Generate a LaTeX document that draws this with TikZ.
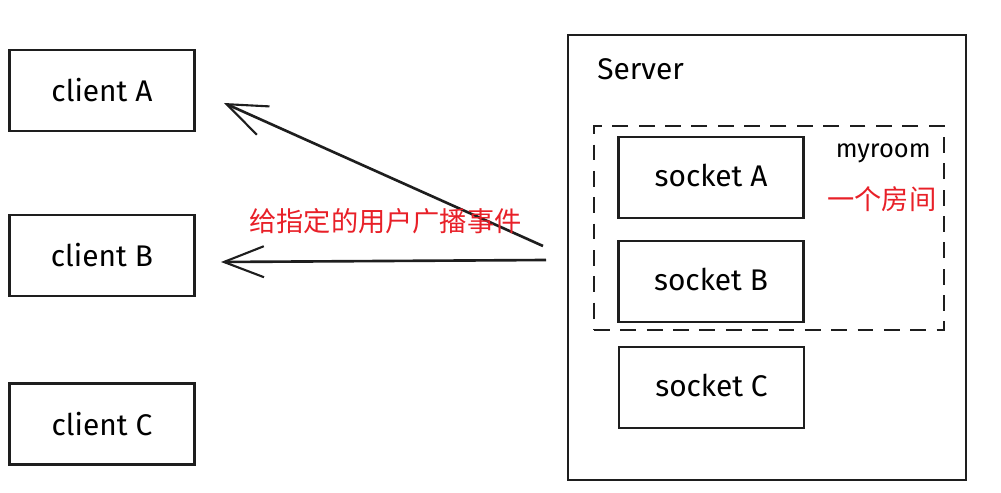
\documentclass[tikz,border=0pt]{standalone}
\usepackage{fontspec}
\setmainfont{Fira Sans}
\newfontfamily\cjk{Noto Sans CJK SC}
\usetikzlibrary{arrows.meta}
\definecolor{redtxt}{RGB}{232,32,40}
\definecolor{ink}{RGB}{30,30,30}
\tikzset{
  box/.style={draw=ink, line width=1.5pt, minimum width=3.7cm, minimum height=1.62cm, inner sep=0pt, font=\fontsize{17}{20}\selectfont},
  conn/.style={draw=ink, line width=1.5pt, -{Straight Barb[length=0.8cm,width=0.62cm,line width=1.2pt]}},
  redlbl/.style={text=redtxt, font=\cjk\fontsize{15.5}{18}\selectfont, inner sep=0pt},
}
\begin{document}
\begin{tikzpicture}[x=0.02cm, y=-0.02cm]
\useasboundingbox (0,0) rectangle (1001,493);
% server
\node[draw=ink, line width=1.5pt, minimum width=7.96cm, minimum height=8.9cm, inner sep=0pt] (server) at (767,257.5) {};
\node[anchor=west, font=\fontsize{17}{20}\selectfont, inner sep=0pt] (servertxt) at (597,69) {Server};
\node[draw=ink, dashed, dash pattern=on 9pt off 6pt, line width=1.2pt, minimum width=7cm, minimum height=4.08cm, inner sep=0pt] (room) at (769,228) {};
\node[anchor=east, font=\fontsize{14.5}{17}\selectfont, inner sep=0pt] (roomtxt) at (931,153) {myroom};
\node[redlbl, anchor=west] (roomcn) at (827,199) {一个房间};
% sockets
\node[box] (sa) at (711,177.5) {\raisebox{3pt}{socket A}};
\node[box] (sb) at (711,281.5) {\raisebox{3pt}{socket B}};
\node[box] (sc) at (711.5,387.5) {\raisebox{2pt}{socket C}};
% clients
\node[box] (ca) at (102,90.5) {\raisebox{-2pt}{client A}};
\node[box] (cb) at (102,255.5) {client B};
\node[box] (cc) at (102,424) {client C};
% connectors
\coordinate (s1) at (543,246);
\coordinate (s2) at (546,260);
\coordinate (e1) at (224,103);
\coordinate (e2) at (221,262);
\draw[conn] (s1) -- (e1);
\draw[conn] (s2) -- (e2);
\node[redlbl, anchor=west] (lbl) at (249,221) {给指定的用户广播事件};
\end{tikzpicture}
\end{document}
